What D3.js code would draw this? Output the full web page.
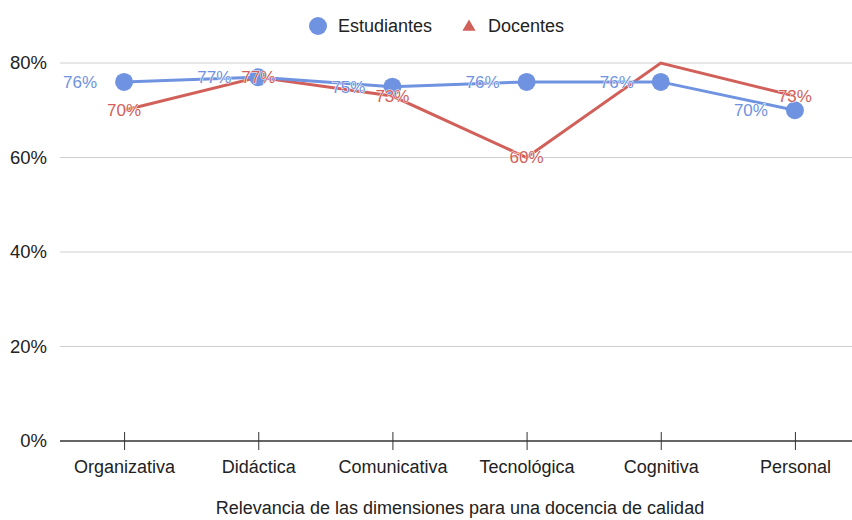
<!DOCTYPE html>
<html>
<head>
<meta charset="utf-8">
<script src="https://cdn.jsdelivr.net/npm/d3@7"></script>
<style>
  body { margin: 0; background: #fff; }
  svg { font-family: "Liberation Sans", Arial, sans-serif; }
</style>
</head>
<body>
<svg id="chart" width="852" height="520"></svg>
<script>
const categories = ["Organizativa", "Didáctica", "Comunicativa", "Tecnológica", "Cognitiva", "Personal"];
const estudiantes = [76, 77, 75, 76, 76, 70];
const docentes = [70, 77, 73, 60, 80, 73];
const yTicks = [0, 20, 40, 60, 80];

const blue = "#6f93e0";
const red = "#d2605a";

const svg = d3.select("#chart");
const plot = { left: 57, right: 862, top: 63, bottom: 441 };

const x = d3.scalePoint().domain(categories).range([plot.left, plot.right]).padding(0.5);
const y = d3.scaleLinear().domain([0, 80]).range([plot.bottom, plot.top]);

// grid
svg.append("g")
  .selectAll("line")
  .data(yTicks.filter(d => d > 0))
  .enter().append("line")
  .attr("x1", 60).attr("x2", 852)
  .attr("y1", d => y(d)).attr("y2", d => y(d))
  .attr("stroke", "#cfcfcf").attr("stroke-width", 1);

// y labels
svg.append("g")
  .selectAll("text")
  .data(yTicks)
  .enter().append("text")
  .attr("x", 47).attr("y", d => y(d))
  .attr("dy", "0.35em")
  .attr("text-anchor", "end")
  .attr("font-size", 18.5)
  .attr("fill", "#222")
  .text(d => d + "%");

// x axis
const xAxis = svg.append("g")
  .attr("transform", `translate(0,${plot.bottom})`)
  .call(d3.axisBottom(x).tickSize(10).tickSizeOuter(0));
xAxis.select(".domain").remove();
xAxis.append("line").attr("x1", 60).attr("x2", 852).attr("stroke", "#333").attr("stroke-width", 1.5);
xAxis.selectAll(".tick line").attr("y1", -9).attr("y2", 9).attr("stroke", "#333");
xAxis.selectAll(".tick text")
  .attr("y", 19).attr("dy", "0.71em")
  .attr("font-size", 18).attr("fill", "#222")
  .attr("font-family", "Liberation Sans, Arial, sans-serif");

svg.append("text")
  .attr("x", 460).attr("y", 514)
  .attr("text-anchor", "middle")
  .attr("font-size", 18).attr("fill", "#222")
  .text("Relevancia de las dimensiones para una docencia de calidad");

const line = d3.line().x((d, i) => x(categories[i])).y(d => y(d));

svg.append("path").datum(docentes)
  .attr("d", line).attr("fill", "none")
  .attr("stroke", red).attr("stroke-width", 3);

svg.append("path").datum(estudiantes)
  .attr("d", line).attr("fill", "none")
  .attr("stroke", blue).attr("stroke-width", 3);

svg.append("g").selectAll("circle")
  .data(estudiantes)
  .enter().append("circle")
  .attr("cx", (d, i) => x(categories[i]))
  .attr("cy", d => y(d))
  .attr("r", 9)
  .attr("fill", blue);

// data labels
svg.append("g").selectAll("text")
  .data(estudiantes)
  .enter().append("text")
  .attr("x", (d, i) => x(categories[i]) - 27)
  .attr("y", d => y(d))
  .attr("dy", "0.35em")
  .attr("text-anchor", "end")
  .attr("font-size", 17)
  .attr("fill", blue)
  .attr("stroke", "#fff").attr("stroke-width", 1).attr("paint-order", "stroke")
  .text(d => d + "%");

svg.append("g").selectAll("text")
  .data(docentes.map((v, i) => ({ v, i })).filter(d => d.v < 80))
  .enter().append("text")
  .attr("x", d => x(categories[d.i]))
  .attr("y", d => y(d.v))
  .attr("dy", "0.35em")
  .attr("text-anchor", "middle")
  .attr("font-size", 17)
  .attr("fill", red)
  .attr("stroke", "#fff").attr("stroke-width", 1).attr("paint-order", "stroke")
  .text(d => d.v + "%");

// legend
const legend = svg.append("g");
legend.append("circle").attr("cx", 318).attr("cy", 26).attr("r", 9).attr("fill", blue);
legend.append("text").attr("x", 338).attr("y", 26).attr("dy", "0.35em")
  .attr("font-size", 18).attr("fill", "#222").text("Estudiantes");
legend.append("path")
  .attr("d", d3.symbol(d3.symbolTriangle, 75)())
  .attr("transform", "translate(469,27)")
  .attr("fill", red);
legend.append("text").attr("x", 488).attr("y", 26).attr("dy", "0.35em")
  .attr("font-size", 18).attr("fill", "#222").text("Docentes");
</script>
</body>
</html>
